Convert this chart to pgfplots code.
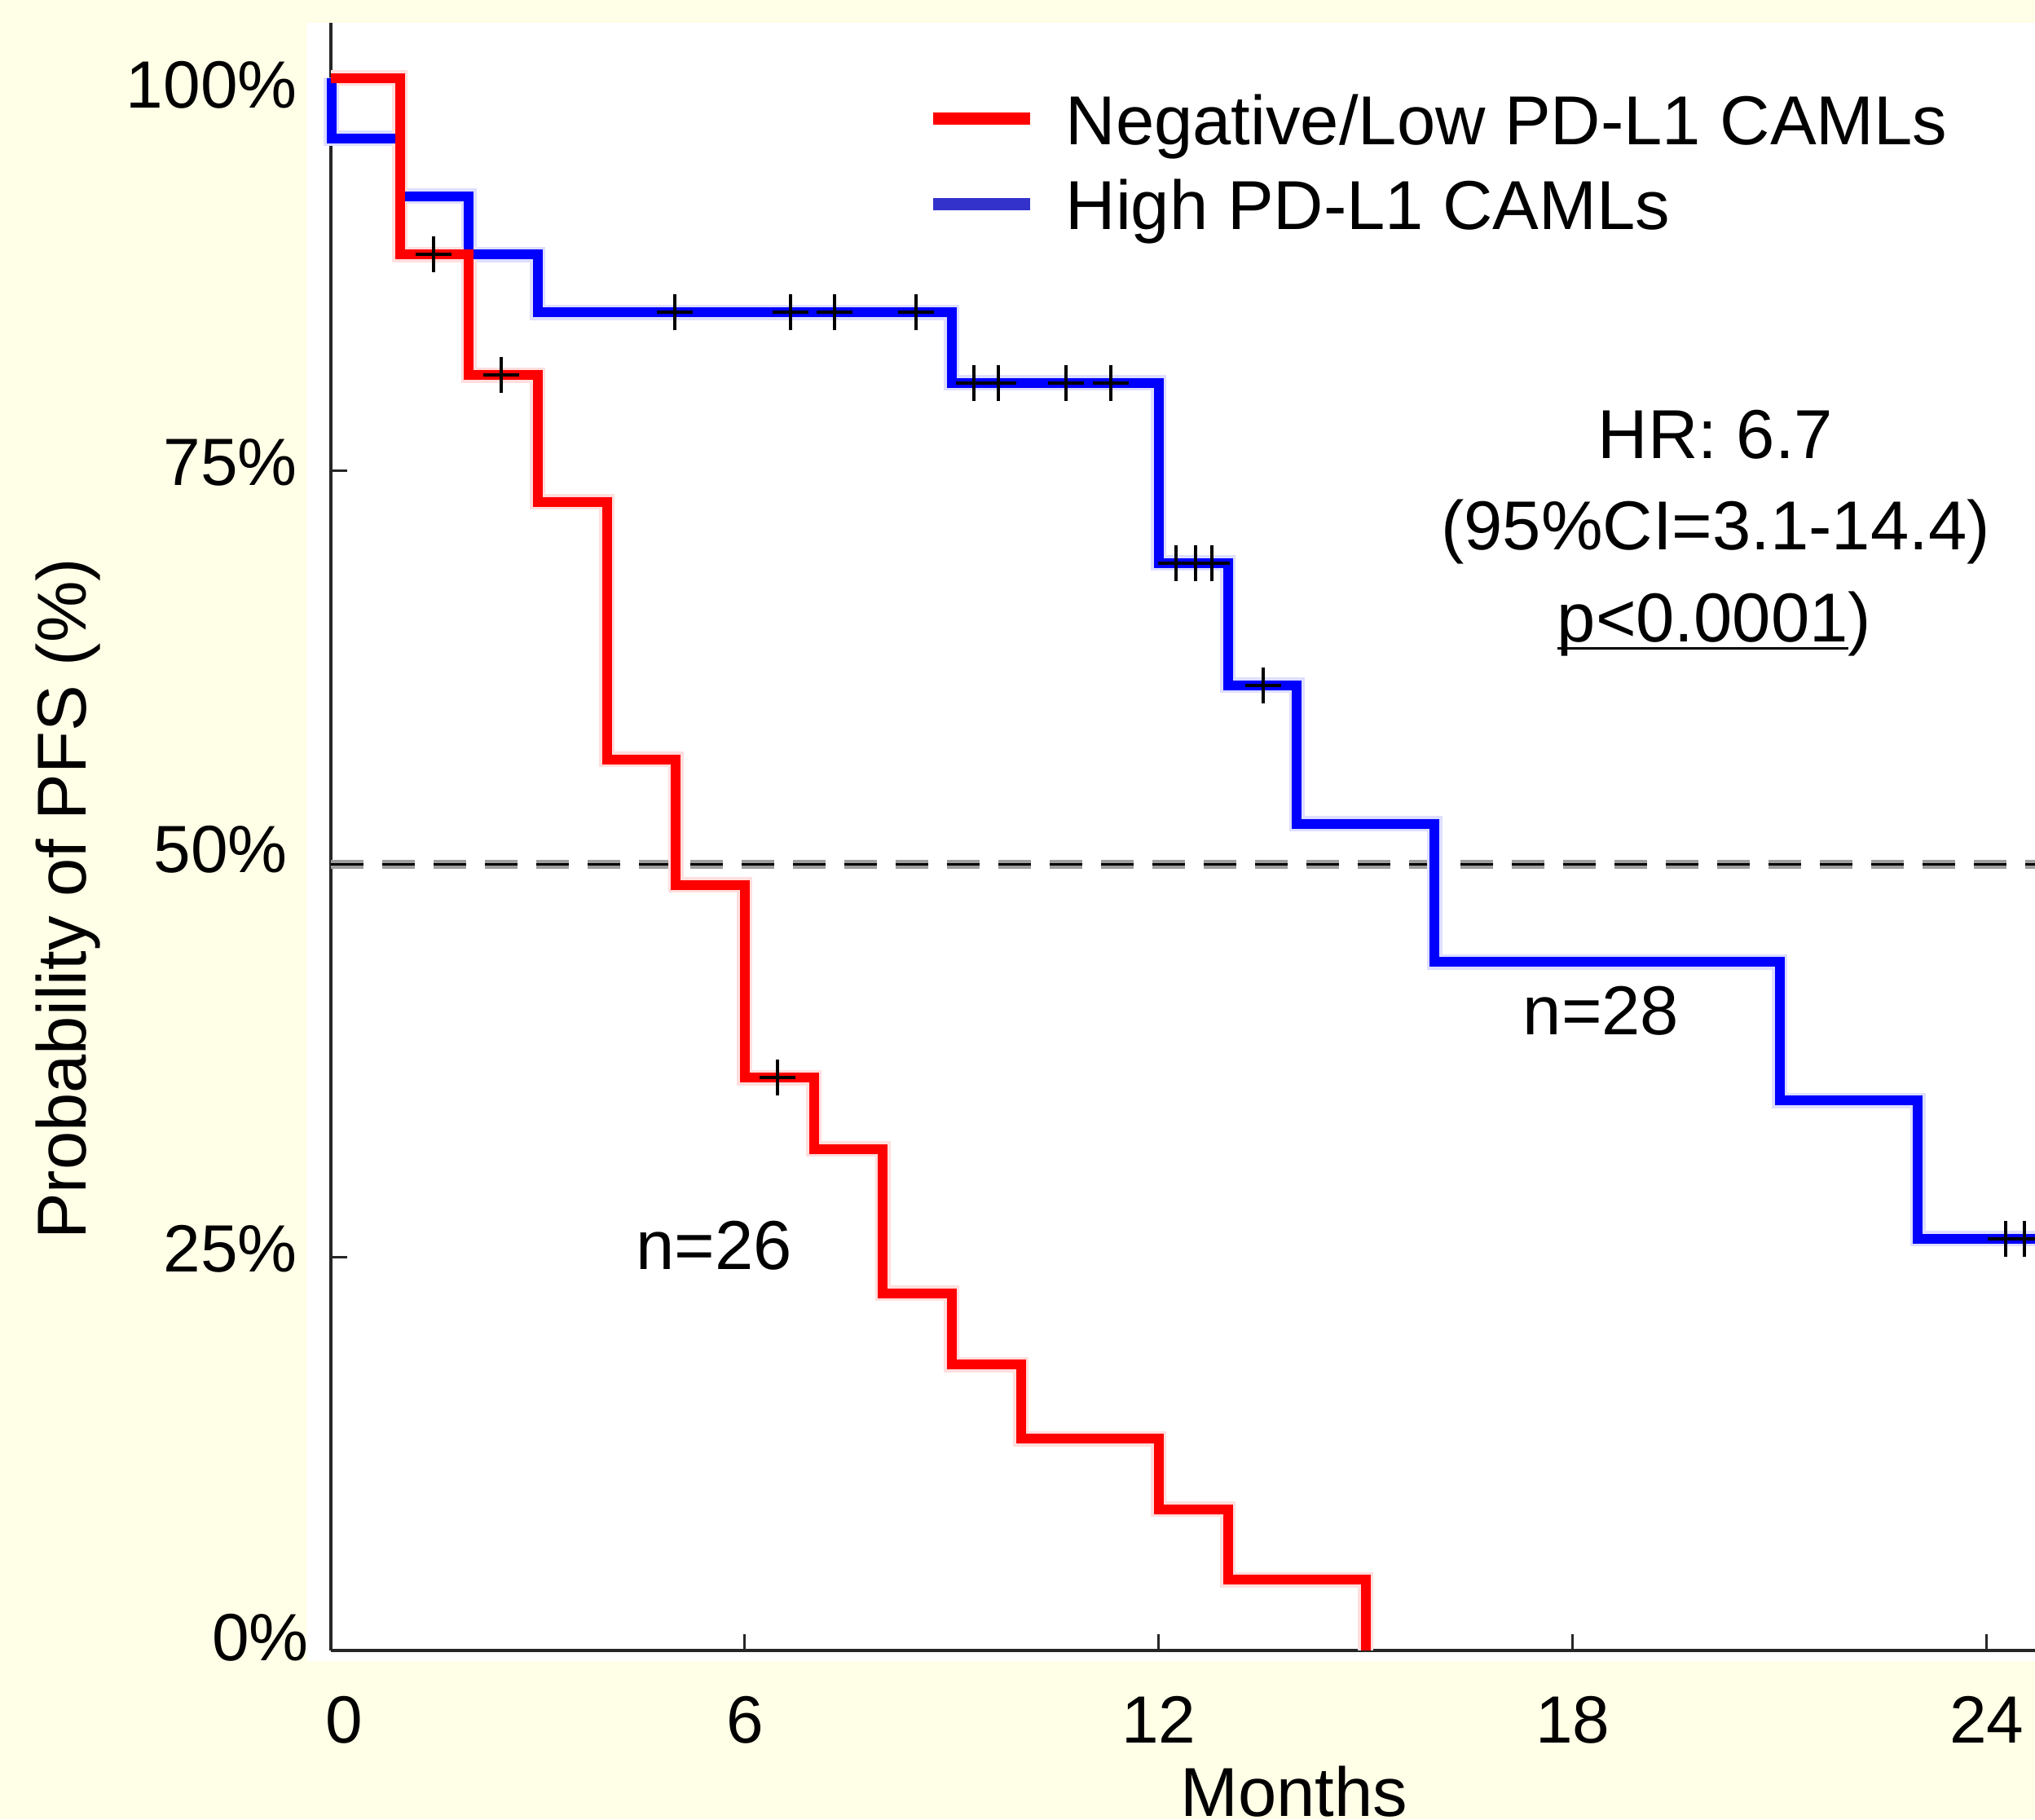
\documentclass[border=0pt]{standalone}
\usepackage{fontspec}
\setmainfont{Liberation Sans}
\usepackage{pgfplots}
\pgfplotsset{compat=1.18}

\definecolor{bgyellow}{RGB}{255,254,230}
\definecolor{kmred}{RGB}{255,0,0}
\definecolor{kmblue}{RGB}{0,0,255}
\definecolor{legblue}{RGB}{51,51,204}
\definecolor{axgray}{RGB}{38,38,38}

\newcommand{\txt}{\fontsize{8.5}{10}\selectfont}

\begin{document}
\begin{tikzpicture}
% page background and plot area
\fill[bgyellow] (-40.6pt,-20.7pt) rectangle (209.1pt,202.5pt);
\fill[white] (-3.0pt,-1.3pt) rectangle (209.1pt,199.74pt);
\begin{axis}[
    at={(0pt,0pt)}, anchor=south west,
    scale only axis, width=209.1pt, height=199.74pt,
    xmin=0, xmax=24.7, ymin=0, ymax=103.52,
    clip=false,
    axis x line*=bottom, axis y line*=left,
    axis line style={axgray, line width=0.35pt, -},
    tick style={axgray, line width=0.3pt},
    tick align=inside, major tick length=2pt,
    xtick={0,6,12,18,24},
    xticklabels={\hspace*{3.2pt}0,6,12,18,24},
    ytick={0,25,50,75,100},
    yticklabels={
        \raisebox{0.6pt}[\height][\depth]{0\%}\hspace*{-1.4pt},
        25\%,
        \raisebox{0.8pt}[\height][\depth]{50\%}\hspace*{1.2pt},
        75\%,
        \raisebox{-1.9pt}[\height][\depth]{100\%}},
    /pgf/number format/assume math mode=true,
    ticklabel style={font=\fontsize{8.2}{9.8}\selectfont},
    xticklabel style={yshift=-2.1pt},
    yticklabel style={xshift=-0.6pt, yshift=1.0pt},
    xlabel={Months},
    ylabel={Probability of PFS (\%)},
    x label style={font=\txt, at={([yshift=-20.3pt]axis description cs:0.5652,0)}, anchor=base},
    y label style={font=\txt, at={([xshift=-30pt]axis description cs:0,0.4617)}, anchor=base},
    legend style={draw=none, fill=none, at={(axis cs:8.62,99.09)}, anchor=north west,
        inner sep=0pt, row sep=2.37pt, column sep=3.6pt, font=\txt,
        nodes={inner sep=0pt, text height=6.2pt, text depth=1.9pt}},
    legend cell align=left,
    legend image code/.code={\draw[#1] (0pt,1.0pt) -- (11.9pt,1.0pt);},
]

% median line
\addplot[forget plot, black!38, line width=1.1pt, dash pattern=on 4pt off 2.3pt] coordinates {(0,50) (24.7,50)};
\addplot[forget plot, black, line width=0.35pt, dash pattern=on 4pt off 2.3pt] coordinates {(0,50) (24.7,50)};

% pale halos under both curves
\addplot[forget plot, const plot, kmblue!13, line width=1.9pt] coordinates {
(0,100) (0.01,96.16) (1,92.48) (2,88.78) (3,85.1) (9,80.6) (12,69.15)
(13,61.38) (14,52.57) (16,43.78) (21,34.98) (23,26.19) (24.7,26.19)};
\addplot[forget plot, const plot, kmred!13, line width=1.9pt] coordinates {
(0,100) (1,88.78) (2,81.1) (3,73.04) (4,56.65) (5,48.68) (6,36.43)
(7,31.9) (8,22.71) (9,18.19) (10,13.47) (12,8.98) (13,4.51) (15,0)};

% High PD-L1 CAMLs, n=28
\addplot[forget plot, const plot, kmblue, line width=1.2pt] coordinates {
(0,100) (0.01,96.16) (1,92.48) (2,88.78) (3,85.1) (9,80.6) (12,69.15)
(13,61.38) (14,52.57) (16,43.78) (21,34.98) (23,26.19) (24.7,26.19)};

% Negative/Low PD-L1 CAMLs, n=26
\addplot[forget plot, const plot, kmred, line width=1.2pt] coordinates {
(0,100) (1,88.78) (2,81.1) (3,73.04) (4,56.65) (5,48.68) (6,36.43)
(7,31.9) (8,22.71) (9,18.19) (10,13.47) (12,8.98) (13,4.51) (15,0)};

% censored observations
\addplot[forget plot, only marks, mark=+, mark size=2.2pt, black, line width=0.4pt] coordinates {
(1.49,88.78) (2.47,81.1) (6.47,36.43)};
\addplot[forget plot, only marks, mark=+, mark size=2.2pt, black, line width=0.4pt] coordinates {
(4.98,85.1) (6.66,85.1) (7.3,85.1) (8.48,85.1)
(9.32,80.6) (9.68,80.6) (10.66,80.6) (11.31,80.6)
(12.25,69.15) (12.53,69.15) (12.77,69.15) (13.51,61.38)
(24.27,26.19) (24.55,26.19)};

\addlegendimage{kmred, line width=1.5pt}
\addlegendentry{Negative/Low PD-L1 CAMLs}
\addlegendimage{legblue, line width=1.5pt}
\addlegendentry{High PD-L1 CAMLs}

\node[font=\txt, anchor=base] at (axis cs:20.07,75.82) {HR: 6.7};
\node[font=\txt, anchor=base] at (axis cs:20.07,70.02) {(95\%CI=3.1-14.4)};
\node[font=\txt, anchor=base] at (axis cs:20.05,64.16)
    {\setbox0\hbox{p<0.0001}\rlap{\rule[-1.0pt]{\wd0}{0.3pt}}\box0)};
\node[font=\txt, anchor=base] at (axis cs:18.41,39.18) {n=28};
\node[font=\txt, anchor=base] at (axis cs:5.55,24.25) {n=26};
\end{axis}
\pgfresetboundingbox
\path[use as bounding box] (-40.6pt,-20.7pt) rectangle (209.1pt,202.5pt);
\end{tikzpicture}
\end{document}
